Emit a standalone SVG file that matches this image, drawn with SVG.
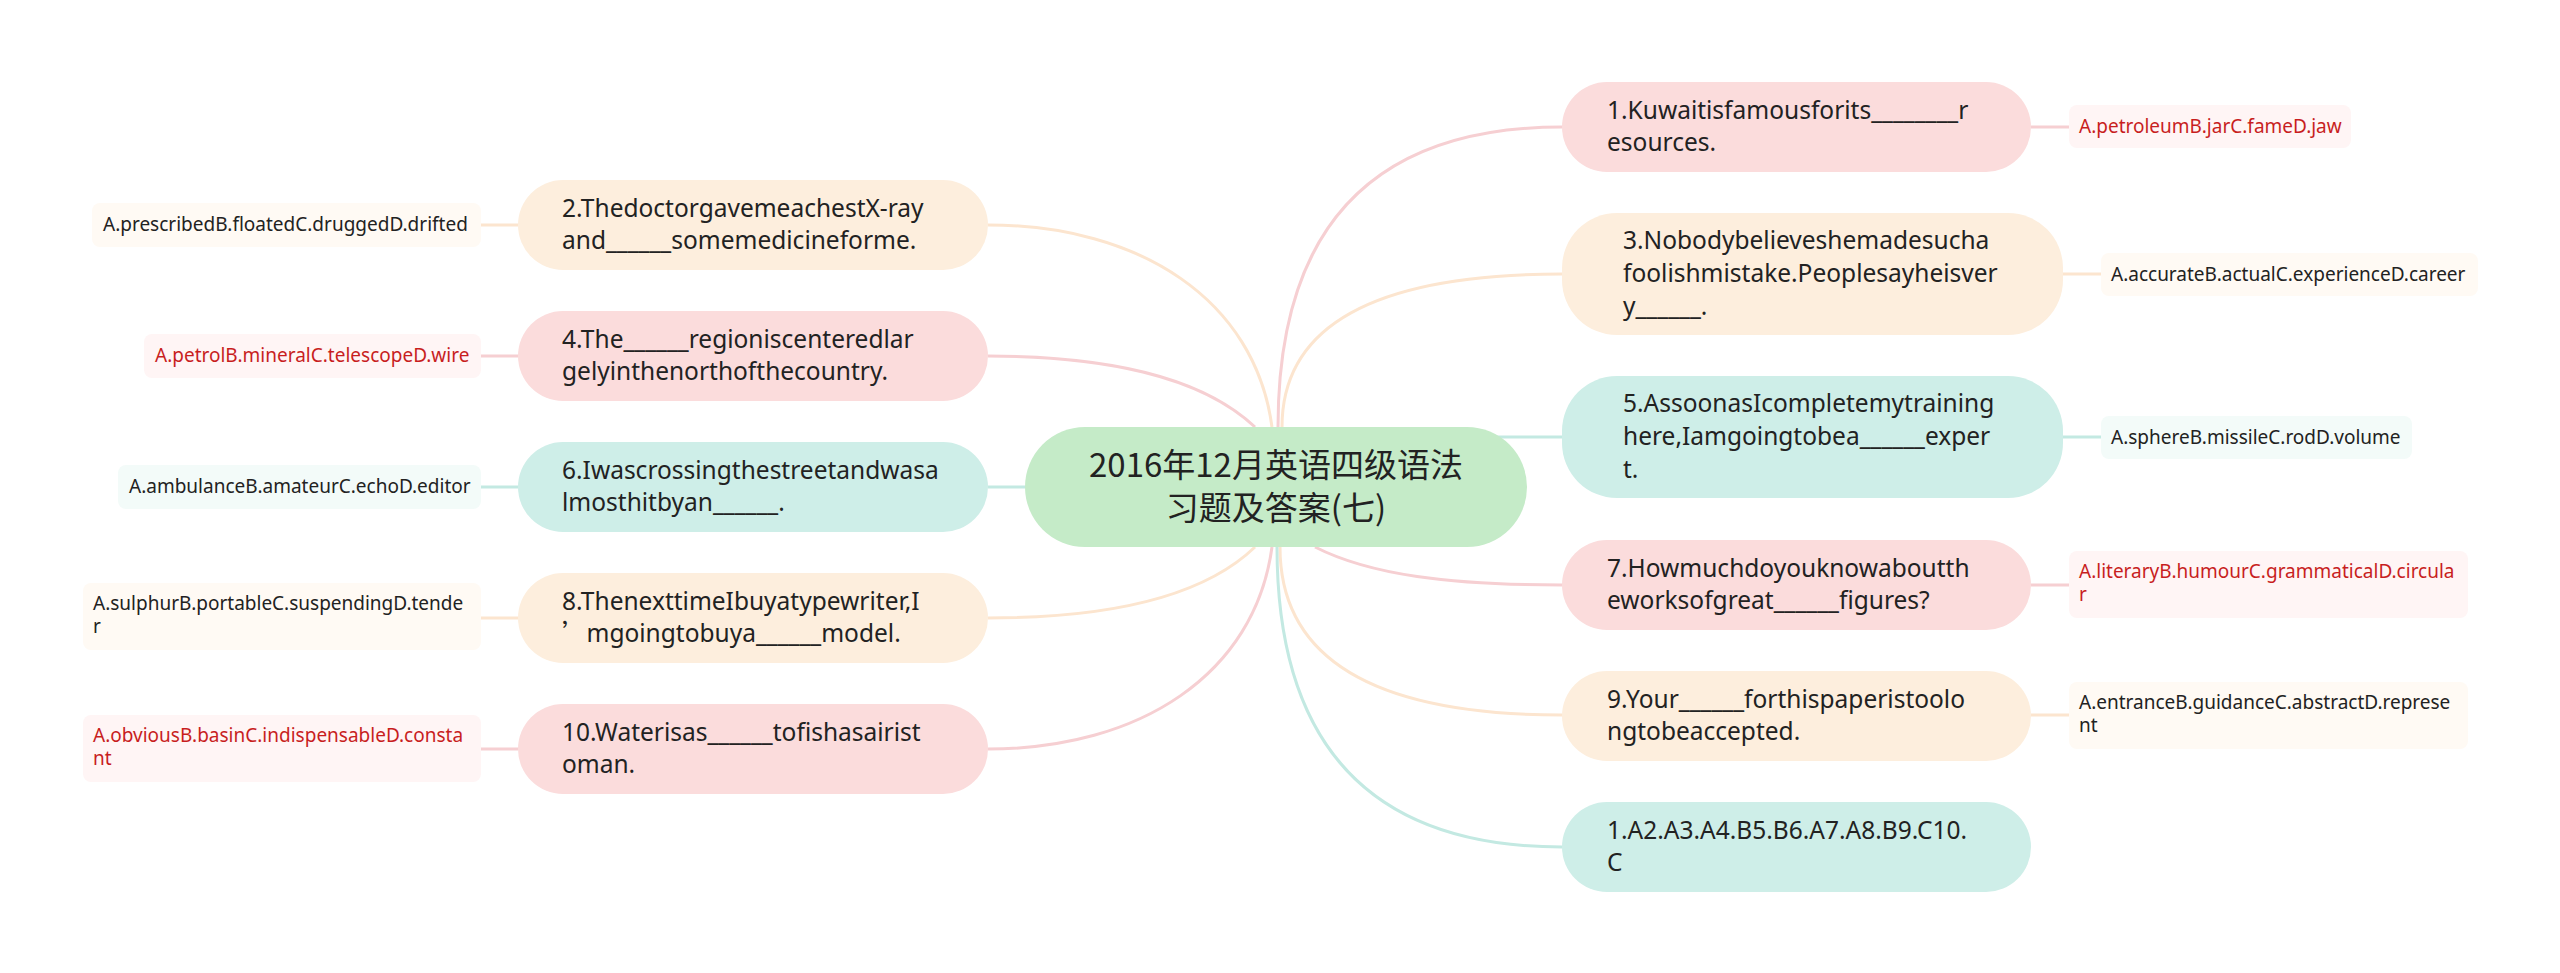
<svg xmlns="http://www.w3.org/2000/svg" width="2560" height="973" viewBox="0 0 2560 973">
<style>
.bg{fill:#ffffff}
.pk{fill:#fbdcdc}
.pe{fill:#fdeedd}
.mi{fill:#ceeee8}
.ct{fill:#c5ebc8}
.apk{fill:#fff5f5}
.ape{fill:#fffaf4}
.ami{fill:#f3fbf9}
.t{font-family:"Noto Sans","Open Sans",sans-serif;font-size:24.5px;fill:#222222}
.s{font-family:"Noto Sans","Open Sans",sans-serif;font-size:19px;fill:#222222}
.r{fill:#c81e1e}
.c{font-family:"Noto Sans CJK SC","Noto Sans",sans-serif;font-size:33px;fill:#222222;text-anchor:middle}
.lpk{stroke:#f6cfd2;stroke-width:3;fill:none}
.lpe{stroke:#fce5cf;stroke-width:3;fill:none}
.lmi{stroke:#c3e9e2;stroke-width:3;fill:none}
</style>
<rect class="bg" x="0" y="0" width="2560" height="973"/>
<g id="connectors">
<path class="lpk" d="M1278,427 Q1278,127 1562,127"/>
<path class="lpe" d="M1282,427 Q1282,274 1562,274"/>
<path class="lmi" d="M1460,437 L1562,437"/>
<path class="lpk" d="M1315,547 C1370,575 1450,585 1562,585"/>
<path class="lpe" d="M1280,547 Q1280,715 1562,715"/>
<path class="lmi" d="M1277,547 Q1277,847 1562,847"/>
<path class="lpe" d="M1272,427 C1255,300 1140,225 988,225"/>
<path class="lpk" d="M1255,427 C1200,375 1100,356 988,356"/>
<path class="lmi" d="M988,487 L1080,487"/>
<path class="lpe" d="M1255,547 C1200,600 1100,618 988,618"/>
<path class="lpk" d="M1272,547 C1255,674 1140,749 988,749"/>
<path class="lpk" d="M2031,127 H2069"/>
<path class="lpe" d="M2063,274 H2101"/>
<path class="lmi" d="M2063,437 H2101"/>
<path class="lpk" d="M2031,585 H2069"/>
<path class="lpe" d="M2031,715 H2069"/>
<path class="lpe" d="M481,225 H518"/>
<path class="lpk" d="M481,356 H518"/>
<path class="lmi" d="M481,487 H518"/>
<path class="lpe" d="M481,618 H518"/>
<path class="lpk" d="M481,749 H518"/>
</g>
<g id="root">
<rect class="ct" x="1025" y="427" width="502" height="120" rx="60"/>
<text class="c" x="1276" y="477">2016年12月英语四级语法</text>
<text class="c" x="1276" y="520">习题及答案(七)</text>
</g>
<g id="q1">
<rect class="pk" x="1562" y="82" width="469" height="90" rx="45"/>
<text class="t" x="1607" y="119">1.Kuwaitisfamousforits________r</text>
<text class="t" x="1607" y="151">esources.</text>
</g>
<g id="a1">
<rect class="apk" x="2069" y="105" width="282" height="43" rx="8"/>
<text class="s r" x="2079" y="133">A.petroleumB.jarC.fameD.jaw</text>
</g>
<g id="q3">
<rect class="pe" x="1562" y="213" width="501" height="122" rx="55"/>
<text class="t" x="1623" y="249">3.Nobodybelieveshemadesucha</text>
<text class="t" x="1623" y="282">foolishmistake.Peoplesayheisver</text>
<text class="t" x="1623" y="315">y______.</text>
</g>
<g id="a3">
<rect class="ape" x="2101" y="253" width="377" height="43" rx="8"/>
<text class="s" x="2111" y="281">A.accurateB.actualC.experienceD.career</text>
</g>
<g id="q5">
<rect class="mi" x="1562" y="376" width="501" height="122" rx="55"/>
<text class="t" x="1623" y="412">5.AssoonasIcompletemytraining</text>
<text class="t" x="1623" y="445">here,Iamgoingtobea______exper</text>
<text class="t" x="1623" y="478">t.</text>
</g>
<g id="a5">
<rect class="ami" x="2101" y="416" width="311" height="43" rx="8"/>
<text class="s" x="2111" y="444">A.sphereB.missileC.rodD.volume</text>
</g>
<g id="q7">
<rect class="pk" x="1562" y="540" width="469" height="90" rx="45"/>
<text class="t" x="1607" y="577">7.Howmuchdoyouknowaboutth</text>
<text class="t" x="1607" y="609">eworksofgreat______figures?</text>
</g>
<g id="a7">
<rect class="apk" x="2069" y="551" width="399" height="67" rx="8"/>
<text class="s r" x="2079" y="578">A.literaryB.humourC.grammaticalD.circula</text>
<text class="s r" x="2079" y="601">r</text>
</g>
<g id="q9">
<rect class="pe" x="1562" y="671" width="469" height="90" rx="45"/>
<text class="t" x="1607" y="708">9.Your______forthispaperistoolo</text>
<text class="t" x="1607" y="740">ngtobeaccepted.</text>
</g>
<g id="a9">
<rect class="ape" x="2069" y="682" width="399" height="67" rx="8"/>
<text class="s" x="2079" y="709">A.entranceB.guidanceC.abstractD.represe</text>
<text class="s" x="2079" y="732">nt</text>
</g>
<g id="ans">
<rect class="mi" x="1562" y="802" width="469" height="90" rx="45"/>
<text class="t" x="1607" y="839">1.A2.A3.A4.B5.B6.A7.A8.B9.C10.</text>
<text class="t" x="1607" y="871">C</text>
</g>
<g id="q2">
<rect class="pe" x="518" y="180" width="470" height="90" rx="45"/>
<text class="t" x="562" y="217">2.ThedoctorgavemeachestX-ray</text>
<text class="t" x="562" y="249">and______somemedicineforme.</text>
</g>
<g id="a2">
<rect class="ape" x="92" y="203" width="389" height="44" rx="8"/>
<text class="s" x="103" y="231">A.prescribedB.floatedC.druggedD.drifted</text>
</g>
<g id="q4">
<rect class="pk" x="518" y="311" width="470" height="90" rx="45"/>
<text class="t" x="562" y="348">4.The______regioniscenteredlar</text>
<text class="t" x="562" y="380">gelyinthenorthofthecountry.</text>
</g>
<g id="a4">
<rect class="apk" x="144" y="334" width="337" height="44" rx="8"/>
<text class="s r" x="155" y="362">A.petrolB.mineralC.telescopeD.wire</text>
</g>
<g id="q6">
<rect class="mi" x="518" y="442" width="470" height="90" rx="45"/>
<text class="t" x="562" y="479">6.Iwascrossingthestreetandwasa</text>
<text class="t" x="562" y="511">lmosthitbyan______.</text>
</g>
<g id="a6">
<rect class="ami" x="118" y="465" width="363" height="44" rx="8"/>
<text class="s" x="129" y="493">A.ambulanceB.amateurC.echoD.editor</text>
</g>
<g id="q8">
<rect class="pe" x="518" y="573" width="470" height="90" rx="45"/>
<text class="t" x="562" y="610">8.ThenexttimeIbuyatypewriter,I</text>
<text class="t" x="562" y="642"><tspan font-family="Noto Sans CJK SC, sans-serif">’</tspan>mgoingtobuya______model.</text>
</g>
<g id="a8">
<rect class="ape" x="83" y="583" width="398" height="67" rx="8"/>
<text class="s" x="93" y="610">A.sulphurB.portableC.suspendingD.tende</text>
<text class="s" x="93" y="633">r</text>
</g>
<g id="q10">
<rect class="pk" x="518" y="704" width="470" height="90" rx="45"/>
<text class="t" x="562" y="741">10.Waterisas______tofishasairist</text>
<text class="t" x="562" y="773">oman.</text>
</g>
<g id="a10">
<rect class="apk" x="83" y="715" width="398" height="67" rx="8"/>
<text class="s r" x="93" y="742">A.obviousB.basinC.indispensableD.consta</text>
<text class="s r" x="93" y="765">nt</text>
</g>
</svg>
